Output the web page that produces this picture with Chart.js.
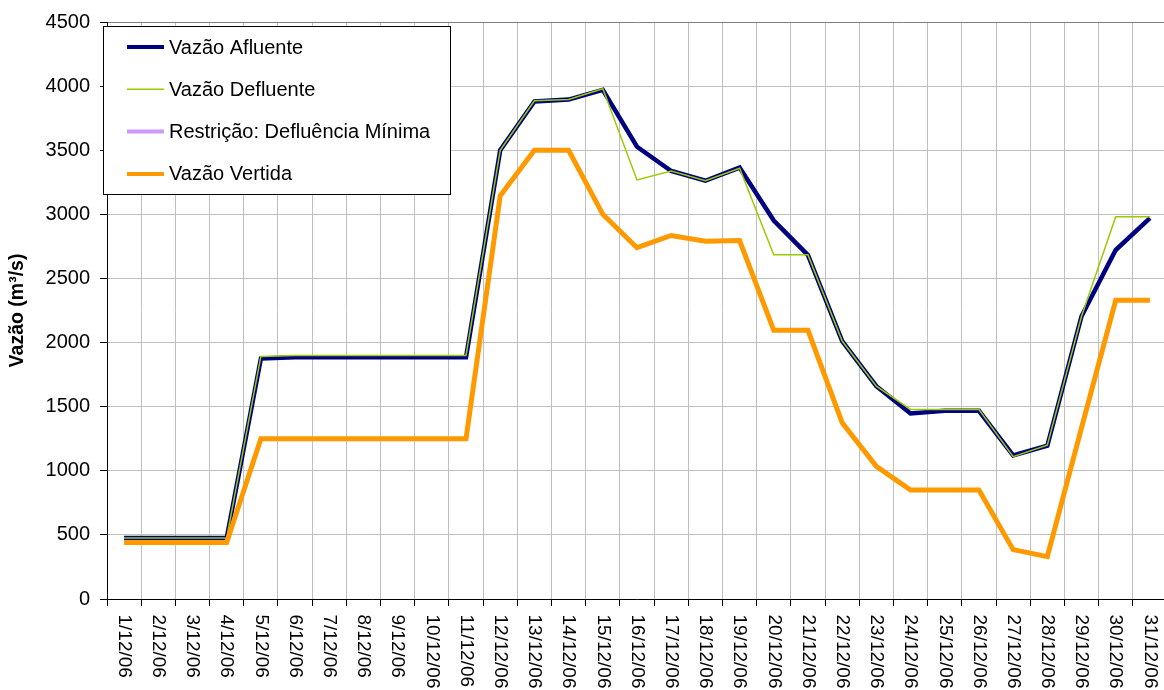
<!DOCTYPE html>
<html>
<head>
<meta charset="utf-8">
<script src="https://cdn.jsdelivr.net/npm/chart.js@4/dist/chart.umd.min.js"></script>
<style>
  html, body { margin: 0; padding: 0; background: #fff; overflow: hidden; }
  #wrap { width: 1167px; height: 690px; position: relative; }
</style>
</head>
<body>
<div id="wrap"><canvas id="mychart"></canvas></div>
<script>
// categories (days of December 2006)
var dias = ["1/12/06", "2/12/06", "3/12/06", "4/12/06", "5/12/06", "6/12/06", "7/12/06",
  "8/12/06", "9/12/06", "10/12/06", "11/12/06", "12/12/06", "13/12/06", "14/12/06",
  "15/12/06", "16/12/06", "17/12/06", "18/12/06", "19/12/06", "20/12/06", "21/12/06",
  "22/12/06", "23/12/06", "24/12/06", "25/12/06", "26/12/06", "27/12/06", "28/12/06",
  "29/12/06", "30/12/06", "31/12/06"];

var afluente = [475, 475, 475, 475, 1875, 1885, 1885, 1885, 1885, 1885, 1885, 3500, 3880, 3895,
  3970, 3527, 3338, 3262, 3365, 2952, 2682, 2012, 1660, 1447, 1468, 1468, 1120, 1195, 2205, 2722, 2970];
var defluente = [475, 475, 475, 475, 1892, 1900, 1900, 1900, 1900, 1900, 1900, 3500, 3885, 3895,
  3980, 3268, 3338, 3262, 3360, 2684, 2684, 2012, 1660, 1478, 1478, 1478, 1110, 1200, 2205, 2982, 2982];
var restricao = [null, null, null, null, null, null, null, null, null, null, null, null, null, null,
  null, null, null, null, null, null, null, null, null, null, null, null, null, null, null, null, null];
var vertida = [440, 440, 440, 440, 1250, 1250, 1250, 1250, 1250, 1250, 1250, 3145, 3500, 3500,
  3000, 2740, 2835, 2790, 2795, 2095, 2095, 1375, 1035, 850, 850, 850, 385, 330, 1335, 2330, 2330];

var yTicks = [0, 500, 1000, 1500, 2000, 2500, 3000, 3500, 4000, 4500];

var fonte = "'Liberation Sans', Arial, sans-serif";

// x labels read top to bottom, so they are drawn here instead of by the scale
var rotLabels = {
  id: 'rotLabels',
  afterDraw: function(chart) {
    var ctx = chart.ctx, xs = chart.scales.x;
    ctx.save();
    ctx.font = "19px " + fonte;
    ctx.fillStyle = "#000";
    ctx.textAlign = "left";
    ctx.textBaseline = "middle";
    for (var i = 0; i < dias.length; i++) {
      ctx.save();
      ctx.translate(xs.getPixelForValue(i), xs.top + 15.5);
      ctx.rotate(Math.PI / 2);
      ctx.fillText(dias[i], 0, 0);
      ctx.restore();
    }
    ctx.restore();
  }
};

// boxed legend inside the plot, like the original
var boxLegend = {
  id: 'boxLegend',
  afterDraw: function(chart) {
    var ctx = chart.ctx;
    var bx = 103.5, by = 26.5, bw = 347, bh = 168;
    ctx.save();
    ctx.fillStyle = "#fff";
    ctx.fillRect(bx, by, bw, bh);
    ctx.strokeStyle = "#000";
    ctx.lineWidth = 1;
    ctx.strokeRect(bx, by, bw, bh);
    ctx.font = "20px " + fonte;
    ctx.textBaseline = "middle";
    ctx.textAlign = "left";
    chart.data.datasets.forEach(function(ds, i) {
      var y = 47 + i * 42.3;
      ctx.strokeStyle = ds.borderColor;
      ctx.lineWidth = ds.legendWidth;
      ctx.beginPath();
      ctx.moveTo(127, y);
      ctx.lineTo(164, y);
      ctx.stroke();
      ctx.fillStyle = "#000";
      ctx.fillText(ds.label, 169, y + 1);
    });
    ctx.restore();
  }
};

var ctx = document.getElementById("mychart");
var data = {
  labels: dias,
  datasets: [
    { label: "Vazão Afluente", data: afluente, borderColor: "#000080", borderWidth: 4.5, legendWidth: 4, order: 3 },
    { label: "Vazão Defluente", data: defluente, borderColor: "#99CC00", borderWidth: 1.5, legendWidth: 1.5, order: 2 },
    { label: "Restrição: Defluência Mínima", data: restricao, borderColor: "#CC99FF", borderWidth: 4, legendWidth: 4, order: 1 },
    { label: "Vazão Vertida", data: vertida, borderColor: "#FF9900", borderWidth: 5, legendWidth: 4, order: 0 }
  ]
};

var myChart = new Chart(ctx, {
  type: 'line',
  data: data,
  plugins: [rotLabels, boxLegend],
  options: {
    responsive: true,
    maintainAspectRatio: false,
    animation: false,
    layout: { padding: { top: 18, right: 0, left: 0, bottom: 0 } },
    elements: {
      point: { radius: 0, hoverRadius: 0 },
      line: { tension: 0, fill: false }
    },
    plugins: {
      legend: { display: false },
      tooltip: { enabled: false }
    },
    scales: {
      x: {
        offset: true,
        grid: { offset: true, color: "#c0c0c0", tickColor: "#000", tickLength: 7, lineWidth: 1 },
        border: { display: true, color: "#000", width: 1 },
        ticks: { display: false },
        afterFit: function(s) { s.height = 91; }
      },
      y: {
        min: 0,
        max: 4500,
        afterBuildTicks: function(s) { s.ticks = yTicks.map(function(v) { return { value: v }; }); },
        grid: {
          color: function(c) { return c.tick && c.tick.value === 4500 ? "#808080" : "#c0c0c0"; },
          tickColor: "#000",
          tickLength: 7
        },
        border: { display: true, color: "#000", width: 1 },
        ticks: {
          color: "#000",
          font: { size: 20, family: fonte },
          padding: 10,
          callback: function(v) { return String(v); }
        },
        title: {
          display: true,
          text: "Vazão (m³/s)",
          color: "#000",
          font: { size: 19.5, weight: "bold", family: fonte },
          padding: { top: 6, bottom: 0 }
        },
        afterFit: function(s) { s.width = 107; }
      }
    }
  }
});
</script>
</body>
</html>
